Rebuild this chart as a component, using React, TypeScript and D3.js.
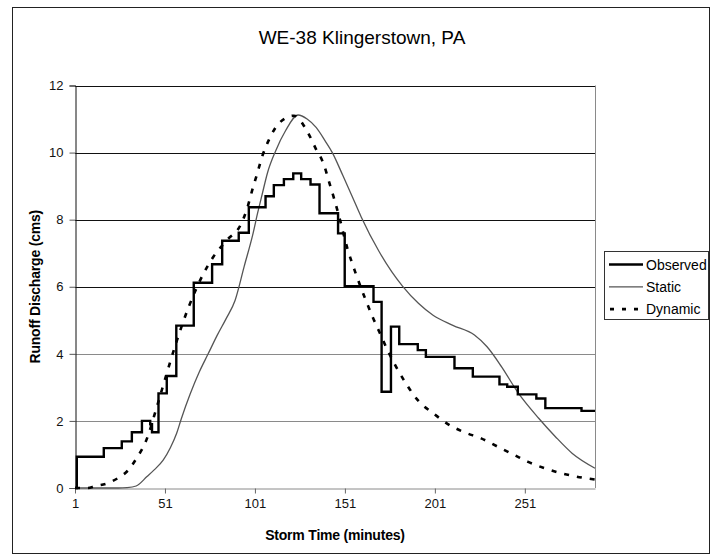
import { useEffect, useRef } from 'react'
import * as d3 from 'd3'

// observed hydrograph: step starts (minute) and discharge (cms)
const obsTime = [1, 2, 17, 27, 32.6, 38.2, 42.8, 43.8, 47.4, 52, 57.3, 67, 77.2, 82.8, 92, 97.6, 106.9, 111.5, 117.1, 122.3, 126.7, 131.9, 136.9, 147.2, 150.9, 166.9, 171.4, 176.6, 181.2, 191.5, 196, 211.9, 222.1, 236.9, 241.2, 247.1, 257.4, 262.4, 282.5, 290]
const obsValue = [0, 0.93, 1.19, 1.39, 1.66, 2.0, 1.9, 1.66, 2.82, 3.34, 4.84, 6.12, 6.67, 7.37, 7.61, 8.37, 8.7, 9.03, 9.21, 9.38, 9.21, 9.05, 8.19, 7.59, 6.02, 5.55, 2.87, 4.81, 4.29, 4.11, 3.91, 3.57, 3.32, 3.09, 3.02, 2.79, 2.67, 2.38, 2.3, 2.3]

const staticTime = [1, 25, 30, 35, 41, 45, 50, 54, 57.5, 60, 65, 70, 75, 80, 85, 90, 95, 100, 102.5, 105, 108, 112.5, 118, 125, 130, 135, 140, 144, 150, 155, 160, 170, 177, 183, 192, 200, 211, 223, 230, 238, 247.5, 258.7, 268, 277.4, 290]
const staticValue = [0, 0, 0.01, 0.06, 0.34, 0.54, 0.83, 1.2, 1.63, 2.05, 2.8, 3.45, 4.0, 4.55, 5.05, 5.6, 6.6, 7.6, 8.2, 8.75, 9.4, 10.05, 10.65, 11.12, 11.0, 10.75, 10.35, 10.0, 9.3, 8.7, 8.09, 7.05, 6.45, 6.02, 5.5, 5.15, 4.85, 4.56, 4.21, 3.62, 2.82, 2.08, 1.53, 1.03, 0.59]

const dynTime = [1, 8, 12, 20, 25, 30, 35.4, 40.6, 46.5, 52, 57.7, 64.2, 72.5, 78, 85.6, 93, 96.7, 99.5, 102.3, 105, 108.7, 114.3, 122.7, 130.2, 134.8, 139.4, 142.2, 145, 147.8, 152.4, 157, 162.6, 166.4, 170.1, 174.7, 179.4, 184.9, 191.5, 200, 210, 218, 226.7, 236, 245.3, 252.8, 262, 271.3, 279.7, 290]
const dynValue = [0, 0, 0.05, 0.16, 0.3, 0.5, 0.9, 1.42, 2.42, 3.42, 4.41, 5.4, 6.4, 6.9, 7.4, 7.84, 8.34, 8.88, 9.38, 9.88, 10.37, 10.87, 11.1, 10.62, 10.12, 9.63, 9.13, 8.63, 8.09, 7.14, 6.4, 5.6, 5.1, 4.66, 4.11, 3.62, 3.12, 2.62, 2.23, 1.85, 1.65, 1.48, 1.23, 0.98, 0.78, 0.59, 0.44, 0.34, 0.25]

const xTicks = [1, 51, 101, 151, 201, 251]
const yTicks = [0, 2, 4, 6, 8, 10, 12]
const seriesNames = ['Observed', 'Static', 'Dynamic']

const FONT = 'Arial, "Liberation Sans", sans-serif'

export default function App() {
  const ref = useRef<SVGSVGElement | null>(null)

  useEffect(() => {
    const svg = d3.select(ref.current)
    svg.selectAll('*').remove()

    const plot = { left: 75, right: 595, top: 85.5, bottom: 488 }
    const x = d3.scaleLinear().domain([1, 290]).range([plot.left, plot.right])
    const y = d3.scaleLinear().domain([0, 12]).range([plot.bottom, plot.top])

    // outer chart border
    svg.append('rect')
      .attr('x', 12.5).attr('y', 7.5)
      .attr('width', 697).attr('height', 546)
      .attr('fill', 'white').attr('stroke', '#222').attr('stroke-width', 1)

    svg.append('text')
      .attr('x', 362).attr('y', 44)
      .attr('text-anchor', 'middle')
      .attr('font-family', FONT).attr('font-size', 19)
      .text('WE-38 Klingerstown, PA')

    // gridlines
    svg.append('g')
      .selectAll('line')
      .data(yTicks.filter((d) => d > 0))
      .enter()
      .append('line')
      .attr('x1', plot.left).attr('x2', plot.right)
      .attr('y1', (d) => Math.round(y(d)) + 0.5)
      .attr('y2', (d) => Math.round(y(d)) + 0.5)
      .attr('stroke', (d) => (d <= 4 ? '#8a8a8a' : '#111'))
      .attr('stroke-width', 1.2)

    // right edge of plot area
    svg.append('line')
      .attr('x1', plot.right + 0.5).attr('x2', plot.right + 0.5)
      .attr('y1', plot.top).attr('y2', plot.bottom)
      .attr('stroke', '#8a8a8a')

    // y axis
    const yAxis = svg.append('g')
      .attr('transform', `translate(${plot.left + 0.5},0)`)
      .call(d3.axisLeft(y).tickValues(yTicks).tickSize(6).tickPadding(6).tickFormat(d3.format('d')))
    yAxis.select('.domain').attr('stroke', '#111')
    yAxis.selectAll('.tick line').attr('stroke', '#555')
    yAxis.selectAll('text').attr('font-family', FONT).attr('font-size', 13).attr('fill', '#111')

    // x axis
    const xAxis = svg.append('g')
      .attr('transform', `translate(0,${plot.bottom + 0.5})`)
      .call(d3.axisBottom(x).tickValues(xTicks).tickSize(5).tickPadding(5).tickSizeOuter(0).tickFormat(d3.format('d')))
    xAxis.select('.domain').attr('stroke', '#8a8a8a')
    xAxis.selectAll('.tick line').attr('stroke', '#666')
    xAxis.selectAll('text').attr('font-family', FONT).attr('font-size', 13).attr('fill', '#111')

    svg.append('text')
      .attr('transform', `translate(40,${(plot.top + plot.bottom) / 2}) rotate(-90)`)
      .attr('text-anchor', 'middle')
      .attr('font-family', FONT).attr('font-size', 14).attr('font-weight', 'bold')
      .attr('letter-spacing', -0.2)
      .text('Runoff Discharge (cms)')

    svg.append('text')
      .attr('x', (plot.left + plot.right) / 2).attr('y', 540)
      .attr('text-anchor', 'middle')
      .attr('font-family', FONT).attr('font-size', 14).attr('font-weight', 'bold')
      .attr('letter-spacing', -0.2)
      .text('Storm Time (minutes)')

    // series
    const staticLine = d3.line<number>()
      .x((d, i) => x(staticTime[i]))
      .y((d) => y(d))
      .curve(d3.curveMonotoneX)
    svg.append('path')
      .attr('d', staticLine(staticValue))
      .attr('fill', 'none').attr('stroke', '#555').attr('stroke-width', 1.3)

    const dynLine = d3.line<number>()
      .x((d, i) => x(dynTime[i]))
      .y((d) => y(d))
      .curve(d3.curveMonotoneX)
    svg.append('path')
      .attr('d', dynLine(dynValue))
      .attr('fill', 'none').attr('stroke', '#000').attr('stroke-width', 2.6)
      .attr('stroke-dasharray', '5,8')

    const obsLine = d3.line<number>()
      .x((d, i) => x(obsTime[i]))
      .y((d) => y(d))
      .curve(d3.curveStepAfter)
    svg.append('path')
      .attr('d', obsLine(obsValue))
      .attr('fill', 'none').attr('stroke', '#000').attr('stroke-width', 2.4)

    // legend
    const legend = svg.append('g')
    legend.append('rect')
      .attr('x', 604.5).attr('y', 251.5).attr('width', 104).attr('height', 68)
      .attr('fill', 'white').attr('stroke', '#333')
    const rows = legend.selectAll('.row')
      .data(seriesNames)
      .enter()
      .append('g')
      .attr('transform', (d, i) => `translate(0,${264.5 + i * 22.3})`)
    rows.append('line')
      .attr('x1', (d, i) => (i === 2 ? 610 : 609)).attr('x2', 643)
      .attr('stroke', (d, i) => (i === 1 ? '#555' : '#000'))
      .attr('stroke-width', (d, i) => (i === 1 ? 1.3 : 2.6))
      .attr('stroke-dasharray', (d, i) => (i === 2 ? '4,8' : null))
    rows.append('text')
      .attr('x', 646).attr('y', 5)
      .attr('font-family', FONT).attr('font-size', 14)
      .text((d) => d)
  }, [])

  return <svg ref={ref} width={714} height={557} style={{ position: 'absolute', left: 0, top: 0, background: 'white' }} />
}
